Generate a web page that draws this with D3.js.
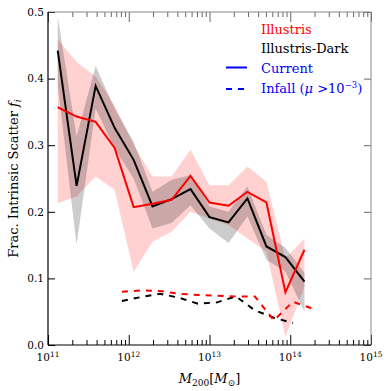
<!DOCTYPE html>
<html>
<head>
<meta charset="utf-8">
<script src="https://cdn.jsdelivr.net/npm/d3@7"></script>
<style>
  body { margin: 0; background: #fff; }
  svg { display: block; font-family: "DejaVu Serif", serif; }
</style>
</head>
<body>
<div id="chart"></div>
<script>
// halo mass bins (current), M_sun
const massCurrent = [1.32e11, 2.26e11, 3.89e11, 6.68e11, 1.15e12, 1.97e12, 3.39e12,
  5.82e12, 1.00e13, 1.72e13, 2.95e13, 5.07e13, 8.71e13, 1.50e14];
const illustrisCurrent = [0.357, 0.343, 0.335, 0.296, 0.207, 0.212, 0.218, 0.254, 0.214, 0.209, 0.230, 0.214, 0.079, 0.143];
const illustrisLo = [0.213, 0.223, 0.253, 0.233, 0.110, 0.155, 0.170, 0.200, 0.190, 0.180, 0.160, 0.140, 0.012, 0.088];
const illustrisHi = [0.459, 0.425, 0.403, 0.360, 0.300, 0.253, 0.253, 0.293, 0.240, 0.240, 0.268, 0.245, 0.130, 0.160];
const darkCurrent = [0.442, 0.239, 0.389, 0.326, 0.278, 0.208, 0.219, 0.234, 0.192, 0.184, 0.220, 0.148, 0.132, 0.095];
const darkLo = [0.390, 0.150, 0.355, 0.295, 0.250, 0.175, 0.183, 0.210, 0.175, 0.153, 0.193, 0.128, 0.110, 0.050];
const darkHi = [0.493, 0.313, 0.419, 0.355, 0.305, 0.230, 0.248, 0.255, 0.208, 0.200, 0.238, 0.165, 0.146, 0.108];

// infall bins
const massInfall = [8.24e11, 1.42e12, 2.43e12, 4.18e12, 7.18e12, 1.24e13, 2.12e13, 3.65e13, 6.27e13, 1.08e14, 1.85e14];
const illustrisInfall = [0.080, 0.082, 0.081, 0.077, 0.075, 0.074, 0.073, 0.073, 0.037, 0.065, 0.055];
const darkInfall = [0.066, 0.072, 0.077, 0.071, 0.062, 0.064, 0.073, 0.052, 0.041, 0.033];

const yTicks = [0.0, 0.1, 0.2, 0.3, 0.4, 0.5];
const xTickExps = [11, 12, 13, 14, 15];

const width = 391, height = 391;
const margin = { top: 12, right: 20, bottom: 46, left: 48 };

const svg = d3.select('#chart').append('svg')
  .attr('width', width)
  .attr('height', height);

const x = d3.scaleLog()
  .domain([1e11, 1e15])
  .range([margin.left, width - margin.right]);

const y = d3.scaleLinear()
  .domain([0, 0.5])
  .range([height - margin.bottom, margin.top]);

const x0 = x.range()[0], x1 = x.range()[1];
const y0 = y.range()[0], y1 = y.range()[1];

// minor x ticks
const minor = [];
for (let e = 11; e < 15; e++) for (let m = 2; m <= 9; m++) minor.push(m * Math.pow(10, e));
const major = xTickExps.map(e => Math.pow(10, e));

// bands
const band = (lo, hi) => d3.area()
  .x((d, i) => x(massCurrent[i]))
  .y0((d, i) => y(lo[i]))
  .y1((d, i) => y(hi[i]));

svg.append('path')
  .datum(illustrisLo)
  .attr('d', band(illustrisLo, illustrisHi))
  .attr('fill', 'red').attr('fill-opacity', 0.18);

svg.append('path')
  .datum(darkLo)
  .attr('d', band(darkLo, darkHi))
  .attr('fill', 'black').attr('fill-opacity', 0.2);

const line = xs => d3.line().x((d, i) => x(xs[i])).y(d => y(d));

svg.append('path').datum(darkCurrent)
  .attr('d', line(massCurrent))
  .attr('fill', 'none').attr('stroke', 'black').attr('stroke-width', 2);

svg.append('path').datum(illustrisCurrent)
  .attr('d', line(massCurrent))
  .attr('fill', 'none').attr('stroke', 'red').attr('stroke-width', 2);

svg.append('path').datum(darkInfall)
  .attr('d', line(massInfall))
  .attr('fill', 'none').attr('stroke', 'black').attr('stroke-width', 2)
  .attr('stroke-dasharray', '6,6');

svg.append('path').datum(illustrisInfall)
  .attr('d', line(massInfall))
  .attr('fill', 'none').attr('stroke', 'red').attr('stroke-width', 2)
  .attr('stroke-dasharray', '6,6');

// axes (ticks inside)
const tickStyle = (g, color) => {
  g.select('.domain').remove();
  g.selectAll('line').attr('stroke', color);
};

svg.append('g').attr('transform', `translate(0,${y0})`)
  .call(d3.axisBottom(x).tickValues(major).tickSize(-10).tickFormat(''))
  .call(g => tickStyle(g, '#000'));
svg.append('g').attr('transform', `translate(0,${y0})`)
  .call(d3.axisBottom(x).tickValues(minor).tickSize(-5).tickFormat(''))
  .call(g => tickStyle(g, '#000'));
svg.append('g').attr('transform', `translate(0,${y1})`)
  .call(d3.axisTop(x).tickValues(major).tickSize(-10).tickFormat(''))
  .call(g => tickStyle(g, '#666'));
svg.append('g').attr('transform', `translate(0,${y1})`)
  .call(d3.axisTop(x).tickValues(minor).tickSize(-5).tickFormat(''))
  .call(g => tickStyle(g, '#666'));

svg.append('g').attr('transform', `translate(${x0},0)`)
  .call(d3.axisLeft(y).tickValues(yTicks).tickSize(-7).tickPadding(4).tickFormat(d3.format('.1f')))
  .call(g => tickStyle(g, '#000'))
  .call(g => g.selectAll('text').attr('font-family', 'DejaVu Serif').attr('font-size', '10.5px').attr('fill', '#000'));
svg.append('g').attr('transform', `translate(${x1},0)`)
  .call(d3.axisRight(y).tickValues(yTicks).tickSize(-7).tickFormat(''))
  .call(g => tickStyle(g, '#666'));

// x tick labels 10^n
svg.append('g').selectAll('text')
  .data(xTickExps)
  .join('text')
  .attr('x', d => x(Math.pow(10, d)))
  .attr('y', y0 + 16)
  .attr('text-anchor', 'middle')
  .attr('font-size', '10.5px')
  .each(function (d) {
    const t = d3.select(this);
    t.append('tspan').text('10');
    t.append('tspan').attr('dy', -4).attr('font-size', '7.5px').text(d);
  });

// frame
svg.append('line').attr('x1', x0).attr('x2', x1).attr('y1', y1).attr('y2', y1).attr('stroke', '#888');
svg.append('line').attr('x1', x1).attr('x2', x1).attr('y1', y0).attr('y2', y1).attr('stroke', '#888');
svg.append('line').attr('x1', x0).attr('x2', x0).attr('y1', y0).attr('y2', y1).attr('stroke', '#000').attr('stroke-width', 1.2);
svg.append('line').attr('x1', x0).attr('x2', x1).attr('y1', y0).attr('y2', y0).attr('stroke', '#000').attr('stroke-width', 1.2);

// axis labels
const yl = svg.append('text')
  .attr('transform', `translate(18,${(y0 + y1) / 2}) rotate(-90)`)
  .attr('text-anchor', 'middle')
  .attr('font-size', '13px');
yl.append('tspan').text('Frac. Intrinsic Scatter ');
yl.append('tspan').attr('font-style', 'italic').text('f');
yl.append('tspan').attr('dy', 3).attr('font-size', '9px').attr('font-style', 'italic').text('i');

const xl = svg.append('text')
  .attr('x', (x0 + x1) / 2)
  .attr('y', 383)
  .attr('text-anchor', 'middle')
  .attr('font-size', '13px');
xl.append('tspan').attr('font-style', 'italic').text('M');
xl.append('tspan').attr('dy', 3).attr('font-size', '9px').text('200');
xl.append('tspan').attr('dy', -3).text('[');
xl.append('tspan').attr('font-style', 'italic').text('M');
xl.append('tspan').attr('dy', 3).attr('font-size', '9px').text('⊙');
xl.append('tspan').attr('dy', -3).text(']');

// legend
const lg = svg.append('g').attr('font-size', '13px');
lg.append('text').attr('x', 261).attr('y', 34).attr('fill', 'red').text('Illustris');
lg.append('text').attr('x', 261).attr('y', 53).attr('fill', 'black').text('Illustris-Dark');
lg.append('line').attr('x1', 226).attr('x2', 247).attr('y1', 67.5).attr('y2', 67.5)
  .attr('stroke', 'blue').attr('stroke-width', 2);
lg.append('text').attr('x', 261).attr('y', 72.5).attr('fill', 'blue').text('Current');
lg.append('line').attr('x1', 226).attr('x2', 247).attr('y1', 89).attr('y2', 89)
  .attr('stroke', 'blue').attr('stroke-width', 2).attr('stroke-dasharray', '6,6');
const inf = lg.append('text').attr('x', 261).attr('y', 93).attr('fill', 'blue');
inf.append('tspan').text('Infall (');
inf.append('tspan').attr('font-style', 'italic').text('μ');
inf.append('tspan').text(' >10');
inf.append('tspan').attr('dy', -5).attr('font-size', '8.5px').text('−3');
inf.append('tspan').attr('dy', 5).text(')');
</script>
</body>
</html>
